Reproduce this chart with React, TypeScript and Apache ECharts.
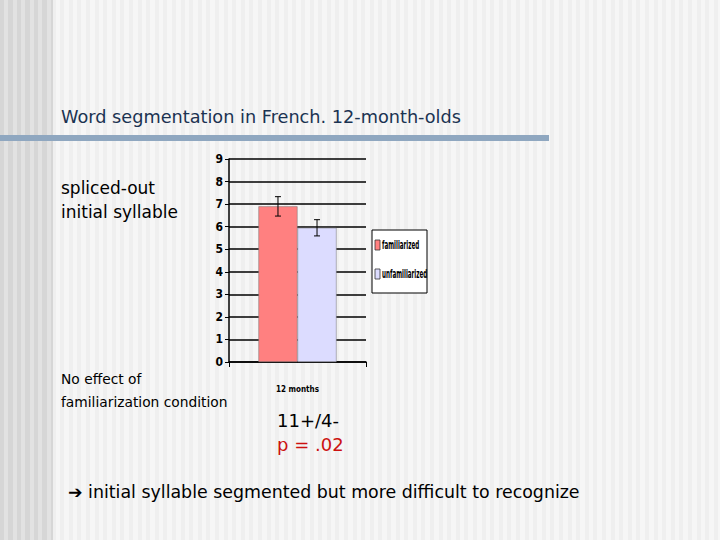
import { useEffect, useRef } from "react";
import * as echarts from "echarts";

const categories = ["12 months"];
const seriesNames = ["familiarized", "unfamiliarized"];
const meanValues = [6.9, 5.95];
const errorValues = [0.43, 0.36];
const barColors = ["#ff8080", "#dcdcff"];
const yTicks = [0, 9, 1];

const SANS = "'DejaVu Sans', Verdana, sans-serif";
const COND = "'DejaVu Sans Condensed', 'Liberation Sans Narrow', 'Liberation Sans', sans-serif";

export default function App(): JSX.Element {
  const rootRef = useRef<HTMLDivElement | null>(null);

  useEffect(() => {
    if (!rootRef.current) return undefined;
    const chart = echarts.init(rootRef.current, undefined, { renderer: "svg" });

    const barSeries = seriesNames.map((name, i) => ({
      type: "bar" as const,
      name,
      data: [meanValues[i]],
      barGap: "0%",
      barCategoryGap: "43%",
      itemStyle: { color: barColors[i], borderColor: "#777", borderWidth: 0.5 },
      z: 3
    }));

    const errorSeries = {
      type: "custom" as const,
      name: "error",
      z: 5,
      silent: true,
      data: seriesNames.map((_, i) => [0, meanValues[i], errorValues[i], i]),
      renderItem: (_params: any, api: any) => {
        const mean = Number(api.value(1));
        const err = Number(api.value(2));
        const idx = Number(api.value(3));
        const band = api.size([1, 0])[0];
        const barW = (band * 0.57) / 2;
        const offset = (idx - 0.5) * barW;
        const hi = api.coord([0, mean + err]);
        const lo = api.coord([0, mean - err]);
        const x = hi[0] + offset;
        const cap = 3;
        const style = { stroke: "#000", lineWidth: 1 };
        return {
          type: "group",
          children: [
            { type: "line", shape: { x1: x, y1: hi[1], x2: x, y2: lo[1] }, style },
            { type: "line", shape: { x1: x - cap, y1: hi[1], x2: x + cap, y2: hi[1] }, style },
            { type: "line", shape: { x1: x - cap, y1: lo[1], x2: x + cap, y2: lo[1] }, style }
          ]
        };
      }
    };

    // hand-drawn legend so the labels can be squeezed like the original
    const legendItems = seriesNames.map((name, i) => ({
      type: "group" as const,
      x: 3,
      y: 15 + i * 29,
      children: [
        {
          type: "rect" as const,
          shape: { x: 0, y: -5, width: 5, height: 10 },
          style: { fill: barColors[i], stroke: "#333", lineWidth: 0.8 }
        },
        {
          type: "text" as const,
          x: 7,
          y: 0,
          scaleX: 0.52,
          style: {
            text: name,
            font: `bold 12px ${COND}`,
            fill: "#000",
            verticalAlign: "middle" as const
          }
        }
      ]
    }));

    const option: echarts.EChartsOption = {
      animation: false,
      title: {
        text: "Word segmentation in French. 12-month-olds",
        left: 56,
        top: 103,
        textStyle: { fontFamily: SANS, fontSize: 17.7, fontWeight: "normal", color: "#1b3352" }
      },
      grid: { left: 229, right: 354, top: 159, bottom: 178 },
      xAxis: {
        type: "category",
        data: categories,
        axisLine: { lineStyle: { color: "#000", width: 1.5 } },
        axisTick: { show: true, length: 5, lineStyle: { color: "#000" } },
        axisLabel: { margin: 23, fontFamily: COND, fontWeight: "bold", fontSize: 8, color: "#000" }
      },
      yAxis: {
        type: "value",
        min: yTicks[0],
        max: yTicks[1],
        interval: yTicks[2],
        axisLine: { show: true, lineStyle: { color: "#000", width: 1.5 } },
        axisTick: { show: true, length: 4, lineStyle: { color: "#000" } },
        splitLine: { show: true, lineStyle: { color: "#000", width: 1.5 } },
        axisLabel: { margin: 6, fontFamily: COND, fontWeight: "bold", fontSize: 12, color: "#000" }
      },
      graphic: [
        {
          type: "rect",
          left: 0,
          top: 135,
          shape: { width: 549, height: 6 },
          style: { fill: "#8fa7c0" },
          silent: true
        },
        {
          type: "group",
          x: 372,
          y: 230,
          children: [
            {
              type: "rect",
              shape: { x: 0, y: 0, width: 55, height: 63 },
              style: { fill: "#fff", stroke: "#000", lineWidth: 1 }
            },
            ...legendItems
          ]
        },
        {
          type: "text",
          left: 61,
          top: 176,
          style: { text: "spliced-out\ninitial syllable", font: `17px ${SANS}`, fill: "#000", lineHeight: 24 }
        },
        {
          type: "text",
          left: 61,
          top: 367,
          style: { text: "No effect of\nfamiliarization condition", font: `13.8px ${SANS}`, fill: "#000", lineHeight: 23 }
        },
        {
          type: "text",
          left: 277,
          top: 411,
          style: { text: "11+/4-", font: `18px ${SANS}`, fill: "#000" }
        },
        {
          type: "text",
          left: 277,
          top: 435,
          style: { text: "p = .02", font: `18px ${SANS}`, fill: "#cc1111" }
        },
        {
          type: "text",
          left: 68,
          top: 483,
          style: { text: "➔ initial syllable segmented but more difficult to recognize", font: `17.4px ${SANS}`, fill: "#000" }
        }
      ],
      series: [...barSeries, errorSeries]
    };

    chart.setOption(option);
    return () => chart.dispose();
  }, []);

  return (
    <div
      style={{
        position: "fixed",
        left: 0,
        top: 0,
        width: 720,
        height: 540,
        background:
          "repeating-linear-gradient(to right, #efefef 0px, #efefef 4px, #f6f6f6 4px, #f6f6f6 8.6px)"
      }}
    >
      <div
        style={{
          position: "absolute",
          left: 0,
          top: 0,
          width: 53,
          height: 540,
          background: "repeating-linear-gradient(to right, #d6d6d6 0px, #d6d6d6 4px, #e2e2e2 4px, #e2e2e2 8.5px)"
        }}
      />
      <div ref={rootRef} style={{ position: "absolute", left: 0, top: 0, width: 720, height: 540 }} />
    </div>
  );
}
